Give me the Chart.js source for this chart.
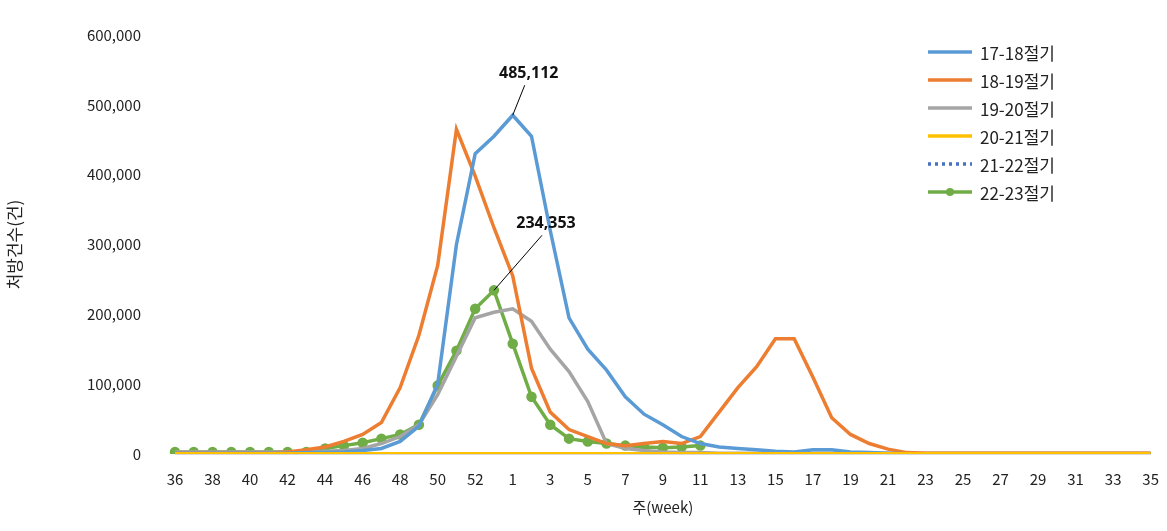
<!DOCTYPE html>
<html>
<head>
<meta charset="utf-8">
<script src="https://cdn.jsdelivr.net/npm/chart.js@4"></script>
<style>
  body { margin: 0; background: #fff; }
  #wrap { position: relative; width: 1167px; height: 531px; }
  #legend { position: absolute; left: 928px; top: 38px; font-family: "Noto Sans CJK KR", "Noto Sans", sans-serif; font-size: 17px; color: #222; }
  #legend div { height: 28px; display: flex; align-items: center; }
  #legend canvas { margin-right: 8px; }
</style>
</head>
<body>
<div id="wrap">
  <canvas id="lineChart" width="1167" height="531"></canvas>
  <div id="legend"></div>
</div>
<script>
// WEEKS 36..53, 1..35
var weeks = [];
for (var w = 36; w <= 53; w++) weeks.push(String(w));
for (var w2 = 1; w2 <= 35; w2++) weeks.push(String(w2));

var season1718 = [1000, 1000, 1000, 1000, 1000, 1000, 1000, 2000, 2000, 3000, 5000, 8000, 18000, 40000, 100000, 300000, 430000, 455000,
  485112, 455000, 320000, 195000, 150000, 120000, 82000, 57000, 42000, 25000, 15000, 10000, 8000, 6000, 4000, 3000, 6000, 6000, 3000, 2000, 1000,
  500, 500, 500, 500, 500, 500, 500, 500, 500, 500, 500, 500, 500, 500];
var season1819 = [1000, 1000, 1000, 1000, 1000, 1000, 3000, 6000, 10000, 18000, 28000, 45000, 95000, 170000, 270000, 465000, 398000, 324000,
  255000, 123000, 60000, 35000, 25000, 15000, 12000, 15000, 18000, 15000, 25000, 60000, 95000, 125000, 165000, 165000, 110000, 52000, 28000, 15000, 7000,
  2000, 1000, 1000, 1000, 1000, 1000, 1000, 1000, 1000, 1000, 1000, 1000, 1000, 1000];
var season1920 = [3000, 3000, 3000, 3000, 3000, 3000, 3000, 3000, 4000, 5000, 8000, 15000, 25000, 42000, 85000, 140000, 195000, 203000,
  208000, 190000, 150000, 118000, 75000, 15000, 8000, 5000, 3000, 2000, 2000, 1000, 1000, 1000, 1000, 1000, 1000, 1000, 1000, 1000, 1000,
  1000, 1000, 1000, 1000, 1000, 1000, 1000, 1000, 1000, 1000, 1000, 1000, 1000, 1000];
var season2021 = weeks.map(function () { return 300; });
var season2122 = weeks.map(function () { return 800; });
var season2223 = [3000, 3000, 3000, 3000, 3000, 3000, 3000, 3000, 8000, 12000, 16000, 22000, 28000, 42000, 98000, 148000, 208000, 234353,
  158000, 82000, 42000, 22000, 18000, 15000, 12000, 10000, 9000, 10000, 12000];

var seriesNames = ["17-18절기", "18-19절기", "19-20절기", "20-21절기", "21-22절기", "22-23절기"];
var seriesColors = ["#5b9bd5", "#ed7d31", "#a5a5a5", "#ffc000", "#4472c4", "#70ad47"];

// ANNOTATIONS (value labels with leader lines)
var callouts = [
  { dataset: 2, index: 18, text: "485,112", dx: 12, dy: -30 },
  { dataset: 5, index: 17, text: "234,353", dx: 48, dy: -55 }
];

var calloutPlugin = {
  id: "callouts",
  afterDatasetsDraw: function (chart) {
    var ctx = chart.ctx;
    callouts.forEach(function (c) {
      var pt = chart.getDatasetMeta(c.dataset).data[c.index];
      ctx.save();
      ctx.strokeStyle = "#000";
      ctx.lineWidth = 1;
      ctx.beginPath();
      ctx.moveTo(pt.x, pt.y);
      ctx.lineTo(pt.x + c.dx, pt.y + c.dy);
      ctx.stroke();
      ctx.fillStyle = "#111";
      ctx.font = "bold 16px 'Noto Sans', sans-serif";
      ctx.textAlign = "center";
      ctx.textBaseline = "bottom";
      ctx.fillText(c.text, pt.x + c.dx + 4, pt.y + c.dy - 4);
      ctx.restore();
    });
  }
};

Chart.defaults.font.family = "'Noto Sans CJK KR', 'Noto Sans', sans-serif";
Chart.defaults.font.size = 15;
Chart.defaults.color = "#222";

function makeSet(i, data, extra) {
  var s = {
    label: seriesNames[i],
    data: data,
    borderColor: seriesColors[i],
    backgroundColor: seriesColors[i],
    borderWidth: 3.5,
    pointRadius: 0,
    tension: 0,
    fill: false
  };
  for (var k in extra) s[k] = extra[k];
  return s;
}

var datasets = [
  makeSet(3, season2021, {}),
  makeSet(4, season2122, { borderDash: [3, 4], borderWidth: 3 }),
  makeSet(0, season1718, {}),
  makeSet(1, season1819, {}),
  makeSet(2, season1920, {}),
  makeSet(5, season2223, { pointRadius: 3.5, pointBackgroundColor: seriesColors[5] })
];

var lineChart = new Chart(document.getElementById("lineChart"), {
  type: "line",
  data: { labels: weeks, datasets: datasets },
  plugins: [calloutPlugin],
  options: {
    responsive: false,
    animation: false,
    layout: { padding: { top: 34, right: 12, left: 0, bottom: 11 } },
    plugins: { legend: { display: false }, tooltip: { enabled: false } },
    scales: {
      x: {
        offset: false,
        grid: { display: false },
        border: { display: true, color: "#d9d9d9" },
        ticks: {
          autoSkip: false,
          maxRotation: 0,
          padding: 8,
          callback: function (v, i) { return i % 2 === 0 ? weeks[i] : ""; }
        },
        title: { display: true, text: "주(week)", padding: { top: 2 } }
      },
      y: {
        min: 0, max: 600000,
        grid: { display: false },
        border: { display: false },
        ticks: {
          stepSize: 100000,
          padding: 26,
          callback: function (v) { return v.toLocaleString("en-US"); }
        },
        title: { display: true, text: "처방건수(건)", font: { size: 17 } },
        afterFit: function (s) { s.width = 175; }
      }
    }
  }
});

// HTML legend
var legendEl = document.getElementById("legend");
[0, 1, 2, 3, 4, 5].forEach(function (i) {
  var row = document.createElement("div");
  var c = document.createElement("canvas");
  c.width = 44; c.height = 12;
  var g = c.getContext("2d");
  g.strokeStyle = seriesColors[i];
  g.fillStyle = seriesColors[i];
  g.lineWidth = 3.5;
  if (i === 4) g.setLineDash([3, 4]);
  g.beginPath(); g.moveTo(0, 6); g.lineTo(44, 6); g.stroke();
  if (i === 5) { g.beginPath(); g.arc(22, 6, 4, 0, Math.PI * 2); g.fill(); }
  row.appendChild(c);
  var t = document.createElement("span");
  t.textContent = seriesNames[i];
  row.appendChild(t);
  legendEl.appendChild(row);
});
</script>
</body>
</html>
